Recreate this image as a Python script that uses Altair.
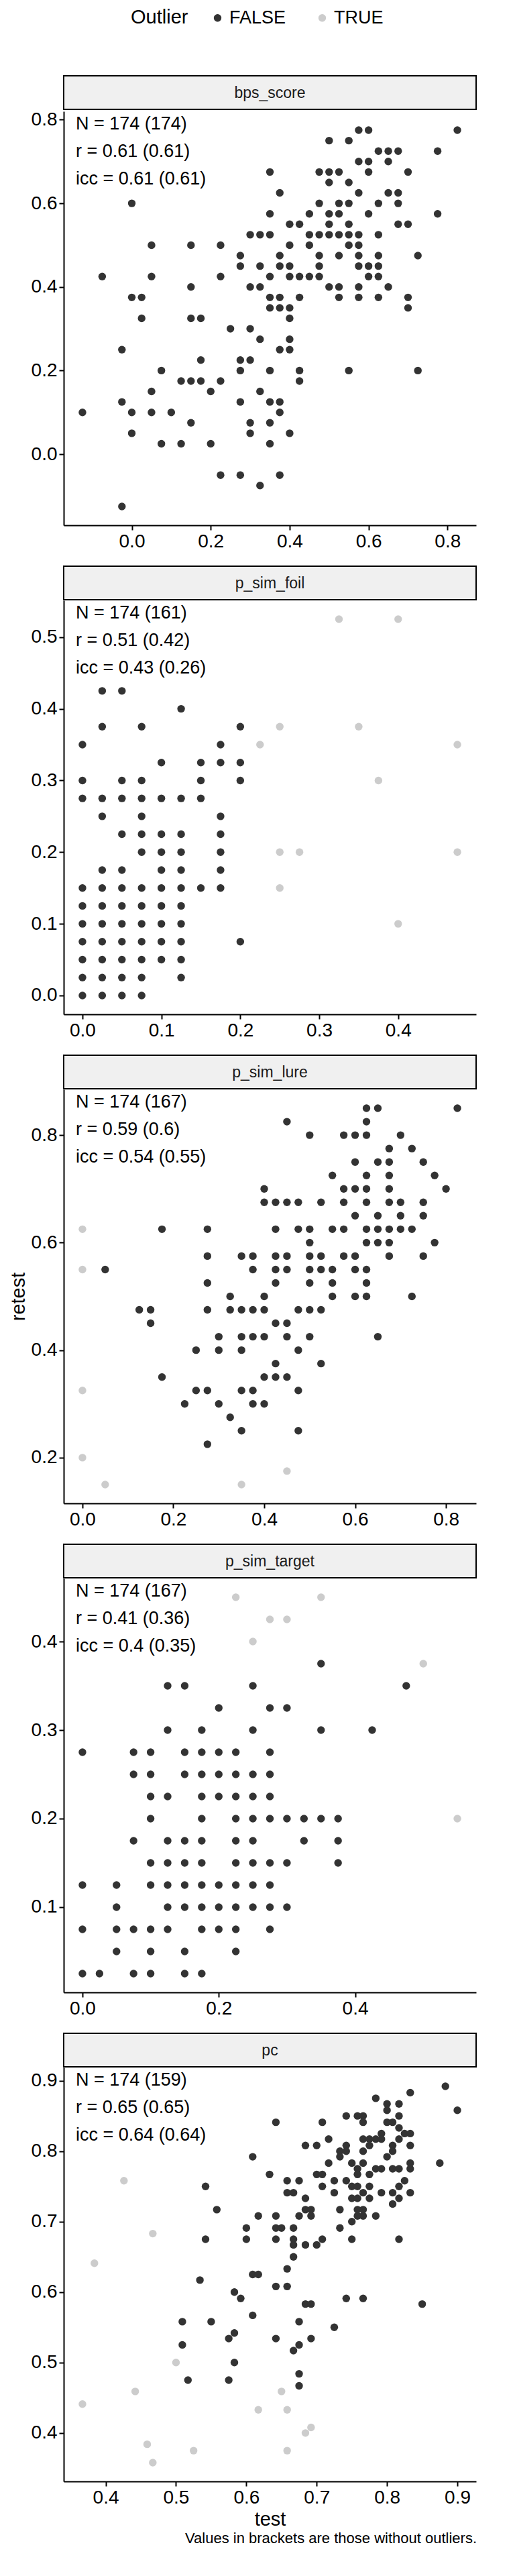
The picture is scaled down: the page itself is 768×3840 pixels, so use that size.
import altair as alt
import pandas as pd

FONT = "Liberation Sans"
W = 615
H = 617
DARK = "#333333"
LIGHT = "#cccccc"

# ---- bps_score (test value -> list of retest values), no outliers
bps_cols = {
    -0.125: [0.1], -0.075: [0.425], -0.025: [0.25, 0.125, -0.125],
    0.0: [0.6, 0.375, 0.1, 0.05], 0.025: [0.375, 0.325],
    0.05: [0.5, 0.425, 0.15, 0.1], 0.075: [0.2, 0.025], 0.1: [0.1],
    0.125: [0.175, 0.025], 0.15: [0.5, 0.4, 0.325, 0.175, 0.075],
    0.175: [0.325, 0.225, 0.175], 0.2: [0.15, 0.025],
    0.225: [0.5, 0.425, 0.175, -0.05], 0.25: [0.3],
    0.275: [0.475, 0.45, 0.225, 0.2, 0.125, -0.05],
    0.3: [0.525, 0.4, 0.3, 0.225, 0.075, 0.05],
    0.325: [0.525, 0.45, 0.4, 0.275, 0.15, -0.075],
    0.35: [0.675, 0.575, 0.525, 0.425, 0.375, 0.35, 0.2, 0.125, 0.075, 0.025],
    0.375: [0.625, 0.475, 0.45, 0.375, 0.35, 0.25, 0.125, 0.1, -0.05],
    0.4: [0.55, 0.5, 0.45, 0.425, 0.35, 0.325, 0.275, 0.25, 0.05],
    0.425: [0.55, 0.425, 0.375, 0.2, 0.175],
    0.45: [0.575, 0.525, 0.5, 0.425],
    0.475: [0.675, 0.6, 0.525, 0.475, 0.45, 0.425],
    0.5: [0.75, 0.675, 0.65, 0.575, 0.55, 0.525, 0.4],
    0.525: [0.675, 0.6, 0.575, 0.525, 0.475, 0.4, 0.375],
    0.55: [0.75, 0.65, 0.6, 0.55, 0.525, 0.5, 0.2],
    0.575: [0.775, 0.7, 0.625, 0.525, 0.5, 0.475, 0.45, 0.4, 0.375],
    0.6: [0.775, 0.7, 0.675, 0.575, 0.45, 0.425],
    0.625: [0.725, 0.6, 0.525, 0.475, 0.45, 0.425, 0.375],
    0.65: [0.725, 0.7, 0.625, 0.4], 0.675: [0.725, 0.625, 0.6, 0.55],
    0.7: [0.675, 0.55, 0.375, 0.35], 0.725: [0.475, 0.2],
    0.775: [0.725, 0.575], 0.825: [0.775],
}
bps_out = []

# ---- p_sim_foil
foil_cols = {
    0.0: [0.35, 0.3, 0.275, 0.15, 0.125, 0.1, 0.075, 0.05, 0.025, 0.0],
    0.025: [0.425, 0.375, 0.275, 0.25, 0.175, 0.15, 0.125, 0.1, 0.075, 0.05, 0.025, 0.0],
    0.05: [0.425, 0.3, 0.275, 0.225, 0.175, 0.15, 0.125, 0.1, 0.075, 0.05, 0.025, 0.0],
    0.075: [0.375, 0.3, 0.275, 0.25, 0.225, 0.2, 0.15, 0.125, 0.1, 0.075, 0.05, 0.025, 0.0],
    0.1: [0.325, 0.275, 0.225, 0.2, 0.175, 0.15, 0.125, 0.1, 0.075, 0.05],
    0.125: [0.4, 0.275, 0.225, 0.2, 0.175, 0.15, 0.125, 0.1, 0.075, 0.05, 0.025],
    0.15: [0.325, 0.3, 0.275, 0.15],
    0.175: [0.35, 0.325, 0.25, 0.225, 0.2, 0.175, 0.15],
    0.2: [0.375, 0.325, 0.3, 0.075],
}
foil_out = [(0.225, 0.35), (0.25, 0.375), (0.25, 0.2), (0.25, 0.15), (0.275, 0.2),
            (0.325, 0.525), (0.35, 0.375), (0.375, 0.3), (0.4, 0.525), (0.4, 0.1),
            (0.475, 0.35), (0.475, 0.2)]

# ---- p_sim_lure
lure_cols = {
    0.05: [0.55], 0.125: [0.475], 0.15: [0.475, 0.45], 0.175: [0.625, 0.35],
    0.225: [0.3], 0.25: [0.4, 0.325],
    0.275: [0.625, 0.575, 0.525, 0.475, 0.325, 0.225],
    0.3: [0.425, 0.4, 0.3], 0.325: [0.5, 0.475, 0.275],
    0.35: [0.575, 0.475, 0.425, 0.4, 0.325, 0.25],
    0.375: [0.575, 0.55, 0.475, 0.425, 0.325, 0.3],
    0.4: [0.7, 0.675, 0.5, 0.475, 0.425, 0.35, 0.3],
    0.425: [0.675, 0.625, 0.575, 0.55, 0.525, 0.45, 0.375, 0.35],
    0.45: [0.825, 0.675, 0.575, 0.55, 0.45, 0.425, 0.35],
    0.475: [0.675, 0.625, 0.475, 0.4, 0.325, 0.25],
    0.5: [0.8, 0.625, 0.6, 0.575, 0.55, 0.525, 0.475, 0.425],
    0.525: [0.675, 0.575, 0.55, 0.475, 0.375],
    0.55: [0.725, 0.625, 0.55, 0.525, 0.5],
    0.575: [0.8, 0.7, 0.675, 0.625, 0.575],
    0.6: [0.8, 0.75, 0.7, 0.65, 0.575, 0.55, 0.5],
    0.625: [0.85, 0.825, 0.8, 0.725, 0.7, 0.675, 0.625, 0.6, 0.55, 0.525, 0.5],
    0.65: [0.85, 0.75, 0.65, 0.625, 0.6, 0.425],
    0.675: [0.775, 0.75, 0.725, 0.7, 0.675, 0.625, 0.6, 0.575],
    0.7: [0.8, 0.675, 0.65, 0.625], 0.725: [0.775, 0.625, 0.5],
    0.75: [0.75, 0.675, 0.65, 0.575], 0.775: [0.725, 0.6],
    0.8: [0.7], 0.825: [0.85],
}
lure_out = [(0.0, 0.625), (0.0, 0.55), (0.0, 0.325), (0.0, 0.2), (0.05, 0.15),
            (0.35, 0.15), (0.45, 0.175)]

# ---- p_sim_target
target_cols = {
    0.0: [0.275, 0.125, 0.075, 0.025], 0.025: [0.025],
    0.05: [0.125, 0.1, 0.075, 0.05],
    0.075: [0.275, 0.25, 0.175, 0.075, 0.025],
    0.1: [0.275, 0.25, 0.225, 0.2, 0.15, 0.125, 0.075, 0.05, 0.025],
    0.125: [0.35, 0.3, 0.225, 0.175, 0.15, 0.125, 0.1, 0.075],
    0.15: [0.35, 0.275, 0.25, 0.175, 0.15, 0.125, 0.1, 0.05, 0.025],
    0.175: [0.3, 0.275, 0.25, 0.225, 0.2, 0.175, 0.15, 0.125, 0.1, 0.075, 0.025],
    0.2: [0.325, 0.275, 0.25, 0.225, 0.125, 0.1, 0.075],
    0.225: [0.275, 0.25, 0.225, 0.2, 0.175, 0.15, 0.125, 0.1, 0.075, 0.05],
    0.25: [0.35, 0.3, 0.25, 0.225, 0.2, 0.175, 0.15, 0.125, 0.1],
    0.275: [0.325, 0.275, 0.25, 0.225, 0.2, 0.15, 0.125, 0.1, 0.075],
    0.3: [0.325, 0.2, 0.15, 0.1], 0.325: [0.2, 0.175],
    0.35: [0.375, 0.3, 0.2], 0.375: [0.2, 0.175, 0.15],
    0.425: [0.3], 0.475: [0.35],
}
target_out = [(0.225, 0.45), (0.35, 0.45), (0.275, 0.425), (0.3, 0.425),
              (0.25, 0.4), (0.5, 0.375), (0.55, 0.2)]

# ---- pc (continuous values)
pc_in = [
    (0.883, 0.892), (0.9, 0.858), (0.833, 0.883), (0.784, 0.875), (0.8, 0.867),
    (0.817, 0.867), (0.8, 0.858), (0.817, 0.85), (0.742, 0.85), (0.758, 0.85),
    (0.766, 0.85), (0.642, 0.841), (0.708, 0.841), (0.766, 0.841), (0.8, 0.841),
    (0.808, 0.841), (0.817, 0.833), (0.792, 0.825), (0.825, 0.825), (0.833, 0.825),
    (0.717, 0.817), (0.766, 0.817), (0.775, 0.817), (0.784, 0.817), (0.792, 0.817),
    (0.817, 0.817), (0.684, 0.808), (0.7, 0.808), (0.742, 0.808), (0.775, 0.808),
    (0.808, 0.808), (0.833, 0.808), (0.733, 0.8), (0.742, 0.8), (0.766, 0.8),
    (0.808, 0.8), (0.609, 0.792), (0.733, 0.792), (0.8, 0.792), (0.717, 0.783),
    (0.75, 0.783), (0.766, 0.783), (0.875, 0.783), (0.833, 0.783), (0.758, 0.775),
    (0.784, 0.775), (0.792, 0.775), (0.808, 0.775), (0.817, 0.775), (0.833, 0.775),
    (0.633, 0.767), (0.7, 0.767), (0.708, 0.767), (0.758, 0.767), (0.775, 0.767),
    (0.658, 0.758), (0.675, 0.758), (0.725, 0.758), (0.742, 0.758), (0.825, 0.758),
    (0.542, 0.75), (0.708, 0.75), (0.75, 0.75), (0.758, 0.75), (0.775, 0.75),
    (0.817, 0.75), (0.658, 0.741), (0.667, 0.741), (0.725, 0.741), (0.766, 0.741),
    (0.792, 0.741), (0.808, 0.741), (0.833, 0.741), (0.75, 0.733), (0.758, 0.733),
    (0.775, 0.733), (0.817, 0.733), (0.684, 0.733), (0.808, 0.725), (0.558, 0.717),
    (0.684, 0.717), (0.692, 0.717), (0.733, 0.717), (0.758, 0.717), (0.766, 0.717),
    (0.617, 0.708), (0.642, 0.708), (0.675, 0.708), (0.692, 0.708), (0.758, 0.708),
    (0.766, 0.708), (0.784, 0.708), (0.75, 0.7), (0.6, 0.691), (0.642, 0.691),
    (0.65, 0.691), (0.667, 0.691), (0.733, 0.691), (0.542, 0.675), (0.6, 0.675),
    (0.642, 0.675), (0.667, 0.675), (0.708, 0.675), (0.75, 0.675), (0.817, 0.675),
    (0.667, 0.667), (0.684, 0.667), (0.7, 0.667), (0.667, 0.65), (0.658, 0.633),
    (0.609, 0.625), (0.617, 0.625), (0.534, 0.617), (0.642, 0.608), (0.658, 0.608),
    (0.583, 0.6), (0.592, 0.591), (0.742, 0.591), (0.766, 0.591), (0.684, 0.583),
    (0.692, 0.583), (0.85, 0.583), (0.609, 0.567), (0.509, 0.558), (0.55, 0.558),
    (0.675, 0.558), (0.725, 0.55), (0.583, 0.542), (0.575, 0.534), (0.642, 0.534),
    (0.692, 0.534), (0.509, 0.525), (0.675, 0.525), (0.667, 0.517), (0.583, 0.5),
    (0.517, 0.475), (0.575, 0.475), (0.675, 0.484), (0.675, 0.467),
]
pc_out = [(0.367, 0.441), (0.384, 0.641), (0.426, 0.758), (0.442, 0.459),
          (0.459, 0.384), (0.467, 0.683), (0.467, 0.358), (0.5, 0.5),
          (0.525, 0.375), (0.617, 0.433), (0.65, 0.459), (0.658, 0.433),
          (0.658, 0.375), (0.684, 0.4), (0.692, 0.408)]

panels = [
    ("bps_score", bps_cols, bps_out, ["N = 174 (174)", "r = 0.61 (0.61)", "icc = 0.61 (0.61)"],
     [0.0, 0.2, 0.4, 0.6, 0.8], [0.0, 0.2, 0.4, 0.6, 0.8]),
    ("p_sim_foil", foil_cols, foil_out, ["N = 174 (161)", "r = 0.51 (0.42)", "icc = 0.43 (0.26)"],
     [0.0, 0.1, 0.2, 0.3, 0.4], [0.0, 0.1, 0.2, 0.3, 0.4, 0.5]),
    ("p_sim_lure", lure_cols, lure_out, ["N = 174 (167)", "r = 0.59 (0.6)", "icc = 0.54 (0.55)"],
     [0.0, 0.2, 0.4, 0.6, 0.8], [0.2, 0.4, 0.6, 0.8]),
    ("p_sim_target", target_cols, target_out, ["N = 174 (167)", "r = 0.41 (0.36)", "icc = 0.4 (0.35)"],
     [0.0, 0.2, 0.4], [0.1, 0.2, 0.3, 0.4]),
    ("pc", pc_in, pc_out, ["N = 174 (159)", "r = 0.65 (0.65)", "icc = 0.64 (0.64)"],
     [0.4, 0.5, 0.6, 0.7, 0.8, 0.9], [0.4, 0.5, 0.6, 0.7, 0.8, 0.9]),
]


def expand(vals):
    lo, hi = min(vals), max(vals)
    pad = (hi - lo) * 0.05
    return [lo - pad, hi + pad]


def make_panel(i, name, inliers, outliers, stats, xticks, yticks):
    if isinstance(inliers, dict):
        pts = [(x, y) for x, ys in inliers.items() for y in ys]
    else:
        pts = list(inliers)
    rows = [{"test": x, "retest": y, "Outlier": "FALSE"} for x, y in pts]
    rows += [{"test": x, "retest": y, "Outlier": "TRUE"} for x, y in outliers]
    df = pd.DataFrame(rows)
    last = i == len(panels) - 1

    xaxis = alt.Axis(values=xticks, format=".1f", title="test" if last else None)
    yaxis = alt.Axis(values=yticks, format=".1f", title="retest" if i == 2 else " ")

    points = alt.Chart(df).mark_circle(size=130, opacity=1).encode(
        x=alt.X("test:Q", scale=alt.Scale(domain=expand(df["test"]), nice=False, zero=False), axis=xaxis),
        y=alt.Y("retest:Q", scale=alt.Scale(domain=expand(df["retest"]), nice=False, zero=False), axis=yaxis),
        color=alt.Color("Outlier:N", scale=alt.Scale(domain=["FALSE", "TRUE"], range=[DARK, LIGHT]),
                        legend=alt.Legend(orient="none", direction="horizontal", titleOrient="left",
                                          legendX=100, legendY=-100)),
    )
    layers = [points]
    for k, line in enumerate(stats):
        layers.append(
            alt.Chart(pd.DataFrame({"line": [line]})).mark_text(
                align="left", baseline="middle", fontSize=27, font=FONT, color="black"
            ).encode(x=alt.value(18), y=alt.value(19 + 41 * k), text="line:N")
        )
    scatter = alt.layer(*layers).properties(width=W, height=H)

    strip_df = pd.DataFrame({"label": [name]})
    strip = alt.layer(
        alt.Chart(strip_df).mark_rect(fill="#f0f0f0", stroke="black", strokeWidth=2).encode(
            x=alt.value(0), x2=alt.value(W), y=alt.value(0), y2=alt.value(50)),
        alt.Chart(strip_df).mark_text(fontSize=23, font=FONT, color="#1a1a1a").encode(
            x=alt.value(W / 2), y=alt.value(26), text="label:N"),
    ).properties(width=W, height=50)
    return alt.vconcat(strip, scatter, spacing=0)


chart = alt.vconcat(
    *[make_panel(i, *p) for i, p in enumerate(panels)],
    spacing=22,
).properties(
    title=alt.TitleParams("Values in brackets are those without outliers.", orient="bottom",
                          anchor="end", fontSize=22, fontWeight="normal", font=FONT, color="black")
).configure_view(stroke=None).configure_axis(
    grid=False, domainColor="black", domainWidth=2, tickColor="black", tickWidth=2, tickSize=7,
    labelFontSize=28, labelColor="black", labelFont=FONT, labelPadding=3,
    titleFontSize=29, titleFont=FONT, titleFontWeight="normal", titleColor="black",
).configure_legend(
    titleFontSize=29, labelFontSize=27, titleFont=FONT, labelFont=FONT, titleFontWeight="normal",
    titleColor="black", labelColor="black", symbolSize=130, columnPadding=40, titlePadding=30,
)

chart.save("out.html", embed_options={"renderer": "svg", "actions": False})
